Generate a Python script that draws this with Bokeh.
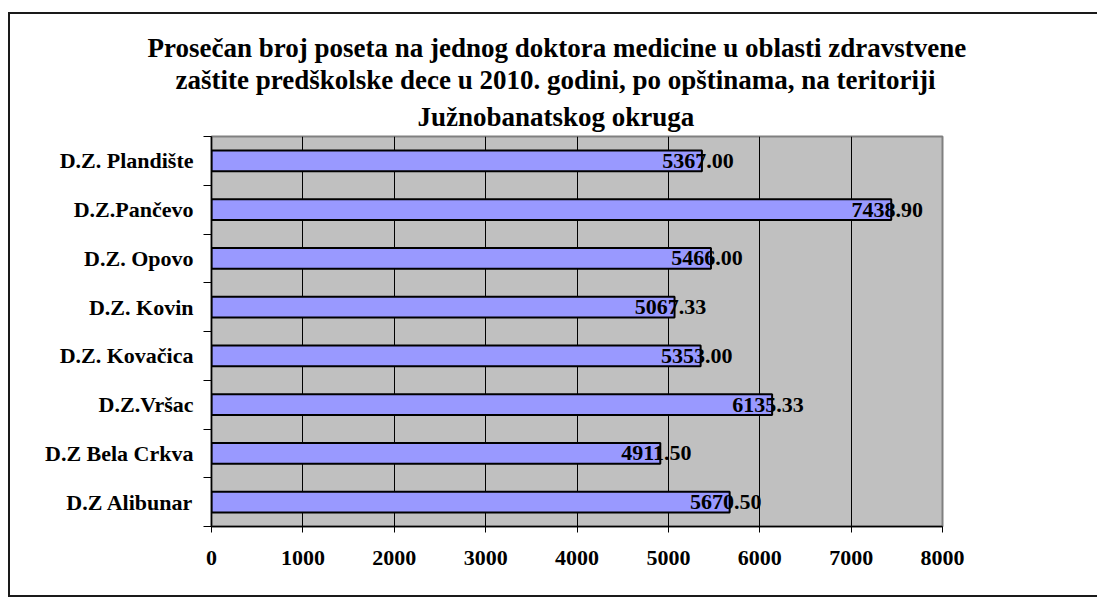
from bokeh.plotting import figure
from bokeh.models import Range1d, FixedTicker, ColumnDataSource, Title
from bokeh.core.properties import value
from bokeh.embed import file_html
from bokeh.resources import INLINE

categories = ["D.Z. Plandište", "D.Z.Pančevo", "D.Z. Opovo", "D.Z. Kovin",
              "D.Z. Kovačica", "D.Z.Vršac", "D.Z Bela Crkva", "D.Z Alibunar"]
values = [5367.00, 7438.90, 5466.00, 5067.33, 5353.00, 6135.33, 4911.50, 5670.50]
x_ticks = [0, 1000, 2000, 3000, 4000, 5000, 6000, 7000, 8000]
title_lines = [
    "Prosečan broj poseta na jednog doktora medicine u oblasti zdravstvene",
    "zaštite  predškolske dece u 2010. godini, po opštinama, na teritoriji",
    "Južnobanatskog okruga",
]
# horizontal offsets of each title line from the frame's left edge (px)
title_offsets = [-64, -36, 206]

FONT = "Liberation Serif"
n = len(categories)
ypos = [n - 0.5 - i for i in range(n)]
labels = [f"{v:.2f}" for v in values]
src = ColumnDataSource(dict(y=ypos, v=values, lab=labels))

p = figure(width=1089, height=585, title=None,
           x_range=Range1d(x_ticks[0], x_ticks[-1]), y_range=Range1d(0, n),
           output_backend="svg", toolbar_location=None,
           min_border_left=201, min_border_right=157,
           min_border_top=122, min_border_bottom=73,
           background_fill_color="#C0C0C0", border_fill_color="white",
           margin=(12, 0, 0, 8))
p.styles = {"border-top": "2px solid #1a1a1a",
            "border-left": "2px solid #1a1a1a",
            "border-bottom": "2px solid #1a1a1a"}

# add from the line closest to the frame outward
for i in reversed(range(len(title_lines))):
    t = Title(text=title_lines[i], align="left", offset=title_offsets[i],
              standoff=10 if i == len(title_lines) - 1 else 0,
              text_font=FONT, text_font_style="bold", text_font_size="27px",
              text_color="black")
    p.add_layout(t, "above")

p.outline_line_color = "#808080"
p.outline_line_width = 2

p.xgrid.ticker = FixedTicker(ticks=x_ticks)
p.xgrid.grid_line_color = "black"
p.xgrid.grid_line_width = 1
p.ygrid.grid_line_color = None

p.hbar(y="y", left=0, right="v", height=0.43, source=src,
       fill_color="#9999FF", line_color="black", line_width=2)
p.text(x="v", y="y", text="lab", source=src, x_offset=-4,
       text_align="center", text_baseline="middle",
       text_font=value(FONT), text_font_style="bold", text_font_size="22px",
       text_color="black")

xa = p.xaxis[0]
xa.ticker = FixedTicker(ticks=x_ticks)
xa.major_tick_in = 0
xa.major_tick_out = 6
xa.minor_tick_out = 0
xa.minor_tick_in = 0
xa.axis_line_width = 1.5
xa.axis_line_color = "black"
xa.major_label_standoff = 18
xa.major_label_text_font = FONT
xa.major_label_text_font_style = "bold"
xa.major_label_text_font_size = "22px"
xa.major_label_text_color = "black"

ya = p.yaxis[0]
ya.ticker = FixedTicker(ticks=sorted(ypos), minor_ticks=list(range(n + 1)))
ya.major_label_overrides = {y: c for y, c in zip(ypos, categories)}
ya.major_tick_in = 0
ya.major_tick_out = 0
ya.minor_tick_in = 0
ya.minor_tick_out = 8
ya.minor_tick_line_color = "black"
ya.axis_line_width = 1.5
ya.axis_line_color = "black"
ya.major_label_standoff = 10
ya.major_label_text_font = FONT
ya.major_label_text_font_style = "bold"
ya.major_label_text_font_size = "22px"
ya.major_label_text_color = "black"

open("out.html", "w").write(file_html(p, INLINE))
